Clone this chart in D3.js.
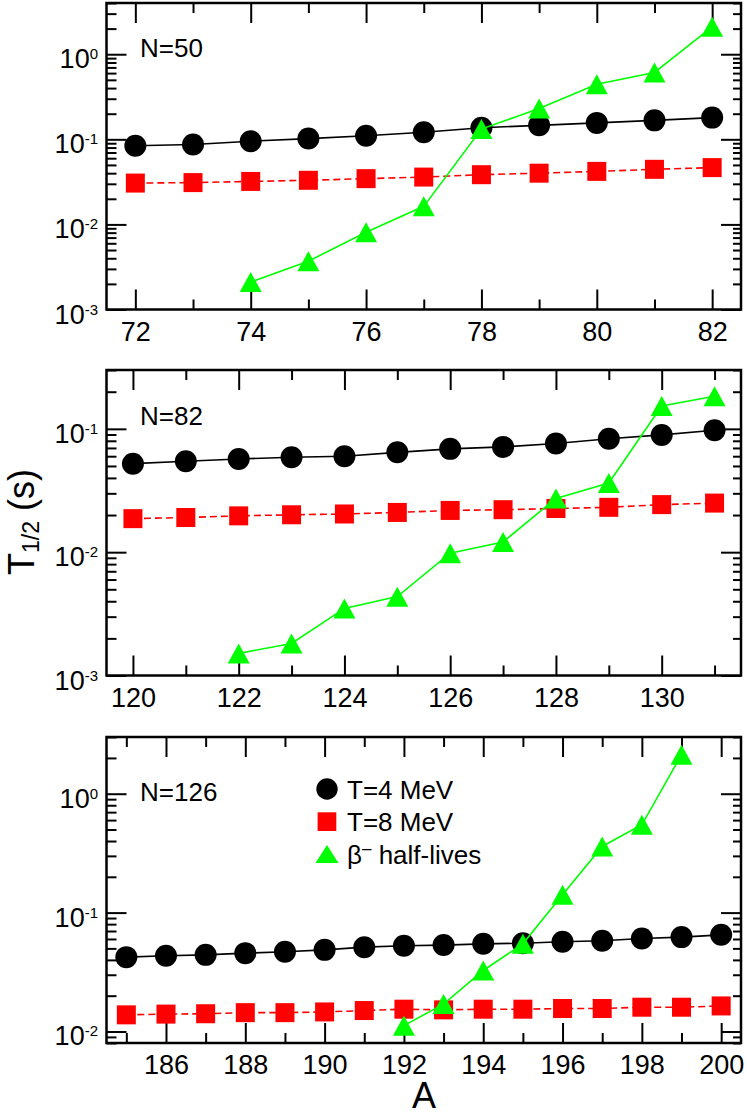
<!DOCTYPE html>
<html>
<head>
<meta charset="utf-8">
<script src="https://cdn.jsdelivr.net/npm/d3@7"></script>
<style>
body { margin: 0; background: #fff; }
text { font-family: "Liberation Sans", Arial, Helvetica, sans-serif; fill: #000; }
</style>
</head>
<body>
<div id="chartDiv"></div>
<script>
// half-lives vs mass number, three neutron shells

// N=50
var massN50 = [72, 73, 74, 75, 76, 77, 78, 79, 80, 81, 82];
var t4N50 = [0.084, 0.087, 0.095, 0.102, 0.110, 0.121, 0.137, 0.146, 0.156, 0.167, 0.180];
var t8N50 = [0.0306, 0.031, 0.032, 0.033, 0.0345, 0.036, 0.0384, 0.040, 0.042, 0.0444, 0.0465];
var betaMassN50 = [74, 75, 76, 77, 78, 79, 80, 81, 82];
var betaN50 = [0.0021, 0.0037, 0.0081, 0.0163, 0.132, 0.23, 0.444, 0.61, 2.1];

// N=82
var massN82 = [120, 121, 122, 123, 124, 125, 126, 127, 128, 129, 130, 131];
var t4N82 = [0.0522, 0.0546, 0.057, 0.0588, 0.0599, 0.0645, 0.0688, 0.0714, 0.076, 0.083, 0.0893, 0.0974];
var t8N82 = [0.0187, 0.0191, 0.0197, 0.0201, 0.0204, 0.021, 0.0218, 0.0221, 0.0226, 0.0231, 0.0243, 0.025];
var betaMassN82 = [122, 123, 124, 125, 126, 127, 128, 129, 130, 131];
var betaN82 = [0.00151, 0.00182, 0.0035, 0.00436, 0.0098, 0.0121, 0.0273, 0.0364, 0.153, 0.184];

// N=126
var massN126 = [185, 186, 187, 188, 189, 190, 191, 192, 193, 194, 195, 196, 197, 198, 199, 200];
var t4N126 = [0.0422, 0.0433, 0.0441, 0.0456, 0.0468, 0.0486, 0.0512, 0.0526, 0.0533, 0.0546, 0.0553, 0.0568, 0.0579, 0.0605, 0.0622, 0.065];
var t8N126 = [0.0138, 0.014, 0.0141, 0.0144, 0.0144, 0.0146, 0.015, 0.0154, 0.0152, 0.0154, 0.0154, 0.0156, 0.0156, 0.016, 0.016, 0.0164];
var betaMassN126 = [192, 193, 194, 195, 196, 197, 198, 199];
var betaN126 = [0.0112, 0.017, 0.0326, 0.0546, 0.141, 0.36, 0.548, 2.13];

// tick labels
var xTicksN50 = [72, 74, 76, 78, 80, 82];
var xTicksN82 = [120, 122, 124, 126, 128, 130];
var xTicksN126 = [186, 188, 190, 192, 194, 196, 198, 200];

var legendLabels = ["T=4 MeV", "T=8 MeV", "β– half-lives"];

var width = 747;
var height = 1116;
var frameLeft = 106.5;
var frameRight = 741;
var majorLen = 20;
var minorLen = 10;

var panels = [
	{ label: "N=50", mass: massN50, t4: t4N50, t8: t8N50, betaMass: betaMassN50, beta: betaN50,
	  xTicks: xTicksN50, xDomain: [71.5, 82.5], yDomain: [1e-3, 4], top: 3, bottom: 309.5, labelY: 57 },
	{ label: "N=82", mass: massN82, t4: t4N82, t8: t8N82, betaMass: betaMassN82, beta: betaN82,
	  xTicks: xTicksN82, xDomain: [119.5, 131.5], yDomain: [1e-3, 0.3], top: 370, bottom: 675.5, labelY: 425 },
	{ label: "N=126", mass: massN126, t4: t4N126, t8: t8N126, betaMass: betaMassN126, beta: betaN126,
	  xTicks: xTicksN126, xDomain: [184.5, 200.5], yDomain: [0.008, 3], top: 737, bottom: 1043, labelY: 801 }
];

var svg = d3.select("#chartDiv").append("svg")
	.attr("width", width)
	.attr("height", height);

var triangle = "M0,-10L11,10L-11,10Z";

panels.forEach(drawPanel);
drawTitles();
drawLegend(panels[2]);

function drawPanel(p) {
	var x = d3.scaleLinear().domain(p.xDomain).range([frameLeft, frameRight]);
	var y = d3.scaleLog().domain(p.yDomain).range([p.bottom, p.top]);
	var g = svg.append("g");

	// x minor ticks on every integer
	var xMinor = d3.range(Math.ceil(p.xDomain[0]), Math.floor(p.xDomain[1]) + 1)
		.filter(function(v) { return p.xTicks.indexOf(v) < 0; });

	// log ticks
	var lo = Math.floor(Math.log10(p.yDomain[0]));
	var hi = Math.ceil(Math.log10(p.yDomain[1]));
	var yMajor = [], yMinor = [];
	for (var e = lo; e <= hi; e++) {
		for (var k = 1; k < 10; k++) {
			var v = k * Math.pow(10, e);
			if (v < p.yDomain[0] * 0.999 || v > p.yDomain[1] * 1.001) continue;
			if (k == 1) yMajor.push(v); else yMinor.push(v);
		}
	}

	// bottom axis
	var bottomAx = g.append("g").attr("transform", "translate(0," + p.bottom + ")")
		.call(d3.axisBottom(x).tickValues(p.xTicks).tickSize(-majorLen).tickPadding(0).tickFormat(d3.format("d")));
	bottomAx.selectAll("text").attr("y", 31).attr("dy", null).style("font-size", "27px");
	g.append("g").attr("transform", "translate(0," + p.bottom + ")")
		.call(d3.axisBottom(x).tickValues(xMinor).tickSize(-minorLen).tickFormat(""));
	// top mirror
	g.append("g").attr("transform", "translate(0," + p.top + ")")
		.call(d3.axisTop(x).tickValues(p.xTicks).tickSize(-majorLen).tickFormat(""));
	g.append("g").attr("transform", "translate(0," + p.top + ")")
		.call(d3.axisTop(x).tickValues(xMinor).tickSize(-minorLen).tickFormat(""));

	// left axis with 10^n labels
	var leftAx = g.append("g").attr("transform", "translate(" + frameLeft + ",0)")
		.call(d3.axisLeft(y).tickValues(yMajor).tickSize(-majorLen).tickPadding(8.5).tickFormat(""));
	leftAx.selectAll("text").attr("dy", "0.5em").style("font-size", "27px")
		.each(function(d) {
			var t = d3.select(this);
			t.append("tspan").text("10");
			t.append("tspan").attr("dy", -9).style("font-size", "15px").text(Math.round(Math.log10(d)));
		});
	g.append("g").attr("transform", "translate(" + frameLeft + ",0)")
		.call(d3.axisLeft(y).tickValues(yMinor).tickSize(-minorLen).tickFormat(""));
	// right mirror
	g.append("g").attr("transform", "translate(" + frameRight + ",0)")
		.call(d3.axisRight(y).tickValues(yMajor).tickSize(-majorLen).tickFormat(""));
	g.append("g").attr("transform", "translate(" + frameRight + ",0)")
		.call(d3.axisRight(y).tickValues(yMinor).tickSize(-8).tickFormat(""));

	g.selectAll(".domain").remove();
	g.selectAll(".tick line").attr("stroke", "#000").attr("stroke-width", 2);

	var line = d3.line()
		.x(function(d) { return x(d[0]); })
		.y(function(d) { return y(d[1]); });

	var set4 = d3.zip(p.mass, p.t4);
	var set8 = d3.zip(p.mass, p.t8);
	var setB = d3.zip(p.betaMass, p.beta);

	// T=4 MeV
	g.append("path").datum(set4).attr("d", line)
		.attr("fill", "none").attr("stroke", "#000").attr("stroke-width", 1.6);
	g.selectAll(".dot4").data(set4).enter().append("circle")
		.attr("class", "dot4")
		.attr("cx", function(d) { return x(d[0]); })
		.attr("cy", function(d) { return y(d[1]); })
		.attr("r", 11)
		.attr("fill", "#000");

	// T=8 MeV
	g.append("path").datum(set8).attr("d", line)
		.attr("fill", "none").attr("stroke", "#ff0000").attr("stroke-width", 1.6)
		.attr("stroke-dasharray", "7,4");
	g.selectAll(".sq8").data(set8).enter().append("rect")
		.attr("class", "sq8")
		.attr("x", function(d) { return x(d[0]) - 9.5; })
		.attr("y", function(d) { return y(d[1]) - 9.5; })
		.attr("width", 19)
		.attr("height", 19)
		.attr("fill", "#ff0000");

	// beta- half-lives
	g.append("path").datum(setB).attr("d", line)
		.attr("fill", "none").attr("stroke", "#00ff00").attr("stroke-width", 1.6);
	g.selectAll(".tri").data(setB).enter().append("path")
		.attr("class", "tri")
		.attr("d", triangle)
		.attr("transform", function(d) { return "translate(" + x(d[0]) + "," + y(d[1]) + ")"; })
		.attr("fill", "#00ff00");

	// frame
	g.append("rect")
		.attr("x", frameLeft).attr("y", p.top)
		.attr("width", frameRight - frameLeft).attr("height", p.bottom - p.top)
		.attr("fill", "none").attr("stroke", "#000").attr("stroke-width", 2.5);

	g.append("text")
		.attr("x", 140).attr("y", p.labelY)
		.style("font-size", "26px")
		.text(p.label);
}

function drawTitles() {
	var yt = svg.append("text")
		.attr("text-anchor", "middle")
		.attr("transform", "translate(34,522) rotate(-90)")
		.style("font-size", "36px");
	yt.append("tspan").text("T");
	yt.append("tspan").attr("dy", 5).style("font-size", "23px").text("1/2");
	yt.append("tspan").attr("dy", -5).text(" (s)");

	svg.append("text")
		.attr("x", 424).attr("y", 1108)
		.attr("text-anchor", "middle")
		.style("font-size", "36px")
		.text("A");
}

function drawLegend(p) {
	var lg = svg.append("g").attr("transform", "translate(327,789)");
	var rowGap = 32.7;

	lg.append("circle").attr("cx", 0).attr("cy", 0).attr("r", 10.7).attr("fill", "#000");
	lg.append("rect").attr("x", -9.4).attr("y", rowGap - 9.4).attr("width", 18.7).attr("height", 18.7).attr("fill", "#ff0000");
	lg.append("path").attr("d", "M0,-9L11.5,9L-11.5,9Z")
		.attr("transform", "translate(0," + (2 * rowGap - 0.5) + ")").attr("fill", "#00ff00");

	lg.selectAll(".leg").data(legendLabels).enter().append("text")
		.attr("class", "leg")
		.attr("x", 20)
		.attr("y", function(d, i) { return i * rowGap + 9.5; })
		.style("font-size", "26px")
		.each(function(d, i) {
			var t = d3.select(this);
			if (i < 2) { t.text(d); return; }
			t.append("tspan").text(d.charAt(0));
			t.append("tspan").attr("dy", -10).style("font-size", "17px").text("–");
			t.append("tspan").attr("dy", 10).text(d.slice(2));
		});
}
</script>
</body>
</html>
